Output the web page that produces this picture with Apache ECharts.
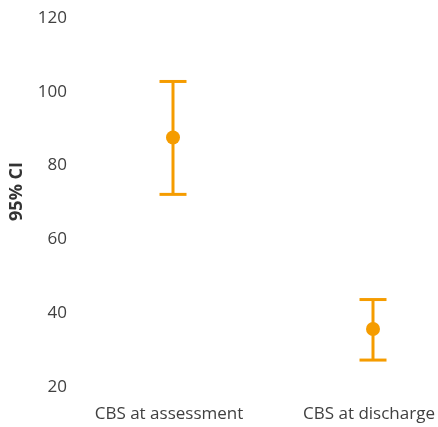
<!DOCTYPE html>
<html>
<head>
<meta charset="utf-8">
<script src="https://cdn.jsdelivr.net/npm/echarts@6/dist/echarts.min.js"></script>
<style>html,body{margin:0;padding:0;background:#fff}#c{width:438px;height:427px}</style>
</head>
<body>
<div id="c"></div>
<script>
const categories = ['CBS at assessment', 'CBS at discharge'];
const means = [87.6, 35.7];
const lowers = [72.2, 27.3];
const uppers = [102.8, 43.7];
const yTicks = [20, 40, 60, 80, 100, 120];

const color = '#F59C00';
const chart = echarts.init(document.getElementById('c'));
const barData = categories.map((c, i) => [i, lowers[i], uppers[i]]);
chart.setOption({
  animation: false,
  grid: { left: 173, right: 65, top: 18, bottom: 40 },
  xAxis: {
    type: 'category', data: categories, boundaryGap: false,
    axisLine: { show: false }, axisTick: { show: false },
    axisLabel: { color: '#404040', fontFamily: 'Open Sans', fontSize: 17, margin: 19, padding: [0, 8, 0, 0] }
  },
  yAxis: {
    type: 'value', min: yTicks[0], max: yTicks[yTicks.length - 1], interval: 20,
    name: '95% CI', nameLocation: 'middle', nameGap: 147, nameRotate: 90,
    nameTextStyle: { color: '#333', fontFamily: 'Open Sans', fontSize: 18, fontWeight: 'bold', padding: [0, 0, 0, 22] },
    axisLine: { show: false }, axisTick: { show: false }, splitLine: { show: false },
    axisLabel: { color: '#404040', fontFamily: 'Open Sans', fontSize: 17, margin: 106 }
  },
  series: [
    {
      type: 'custom',
      data: barData,
      renderItem: function (params, api) {
        const x = api.value(0);
        const lo = api.coord([x, api.value(1)]);
        const hi = api.coord([x, api.value(2)]);
        const hw = 13.5;
        const st = { stroke: color, lineWidth: 3 };
        return {
          type: 'group',
          children: [
            { type: 'line', shape: { x1: lo[0], y1: lo[1], x2: hi[0], y2: hi[1] }, style: st },
            { type: 'line', shape: { x1: hi[0] - hw, y1: hi[1], x2: hi[0] + hw, y2: hi[1] }, style: st },
            { type: 'line', shape: { x1: lo[0] - hw, y1: lo[1], x2: lo[0] + hw, y2: lo[1] }, style: st }
          ]
        };
      },
      z: 1
    },
    {
      type: 'scatter',
      data: means.map((m, i) => [i, m]),
      symbol: 'circle', symbolSize: 14,
      itemStyle: { color: color, opacity: 1 },
      z: 2
    }
  ]
});
</script>
</body>
</html>
